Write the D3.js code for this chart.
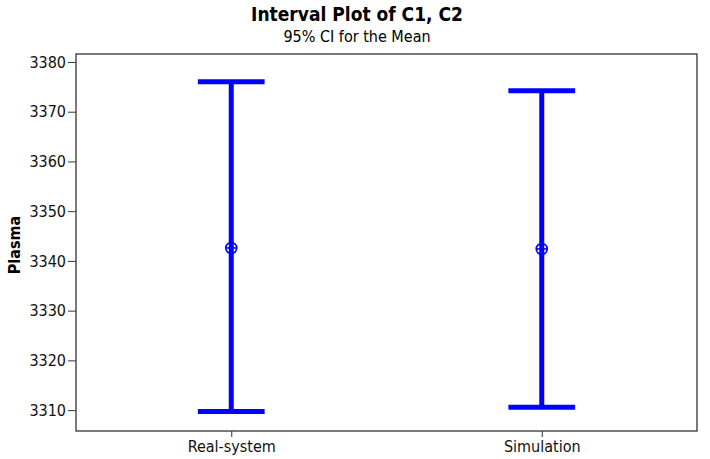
<!DOCTYPE html>
<html>
<head>
<meta charset="utf-8">
<script src="https://cdn.jsdelivr.net/npm/d3@7"></script>
<style>
  body { margin: 0; background: #fff; }
  text { font-family: "DejaVu Sans Condensed", "DejaVu Sans", Verdana, sans-serif; }
</style>
</head>
<body>
<div id="chart"></div>
<script>
// interval plot values
const categories = ["Real-system", "Simulation"];
const means = [3342.6, 3342.4];
const lowers = [3309.7, 3310.6];
const uppers = [3376.0, 3374.2];
const yTicks = [3310, 3320, 3330, 3340, 3350, 3360, 3370, 3380];

const width = 710, height = 459;
const margin = {top: 54, right: 13, bottom: 28, left: 76};

const svg = d3.select("#chart").append("svg")
    .attr("width", width)
    .attr("height", height);

const data = categories.map((c, i) => ({name: c, mean: means[i], lo: lowers[i], hi: uppers[i]}));

let x = d3.scalePoint()
    .domain(categories)
    .range([margin.left, width - margin.right])
    .padding(0.5);
let y = d3.scaleLinear()
    .domain([3305.8, 3381.6])
    .range([height - margin.bottom, margin.top]);

const capW = x.step() * 0.215;
const blue = "#0000ff";

// frame
svg.append("rect")
    .attr("x", margin.left)
    .attr("y", margin.top)
    .attr("width", width - margin.left - margin.right)
    .attr("height", height - margin.top - margin.bottom)
    .attr("fill", "none")
    .attr("stroke", "#222")
    .attr("stroke-width", 1.2);

let yAxis = g => g
    .attr("transform", `translate(${margin.left},0)`)
    .call(d3.axisLeft(y).tickValues(yTicks).tickFormat(d3.format("d")).tickSize(8).tickPadding(2))
    .call(g => g.selectAll(".domain").remove())
    .call(g => g.selectAll("line").attr("stroke", "#333"))
    .call(g => g.selectAll("text").style("font-size", "16px").attr("fill", "#111"));

let xAxis = g => g
    .attr("transform", `translate(0,${height - margin.bottom})`)
    .call(d3.axisBottom(x).tickSize(6).tickPadding(4))
    .call(g => g.selectAll(".domain").remove())
    .call(g => g.selectAll("line").attr("stroke", "#333"))
    .call(g => g.selectAll("text").style("font-size", "16px").attr("fill", "#111"));

svg.append("g").call(yAxis);
svg.append("g").call(xAxis);

// intervals
const bars = svg.append("g")
    .selectAll("g")
    .data(data)
    .join("g")
    .attr("stroke", blue)
    .attr("stroke-width", 5)
    .attr("fill", "none");

bars.append("line")
    .attr("x1", d => x(d.name)).attr("x2", d => x(d.name))
    .attr("y1", d => y(d.lo)).attr("y2", d => y(d.hi));
bars.append("line")
    .attr("x1", d => x(d.name) - capW / 2).attr("x2", d => x(d.name) + capW / 2)
    .attr("y1", d => y(d.hi)).attr("y2", d => y(d.hi));
bars.append("line")
    .attr("x1", d => x(d.name) - capW / 2).attr("x2", d => x(d.name) + capW / 2)
    .attr("y1", d => y(d.lo)).attr("y2", d => y(d.lo));

// mean symbol: circle with cross
const sym = svg.append("g")
    .selectAll("g")
    .data(data)
    .join("g")
    .attr("transform", d => `translate(${x(d.name)},${y(d.mean)})`)
    .attr("stroke", blue)
    .attr("stroke-width", 1.6)
    .attr("fill", "none");
sym.append("circle").attr("r", 5.5);
sym.append("line").attr("x1", -5.5).attr("x2", 5.5);
sym.append("line").attr("y1", -5.5).attr("y2", 5.5);

// titles
svg.append("text")
    .attr("x", width / 2 + 2).attr("y", 21)
    .attr("text-anchor", "middle")
    .style("font-size", "19px").style("font-weight", "bold")
    .text("Interval Plot of C1, C2");
svg.append("text")
    .attr("x", width / 2 + 2).attr("y", 42)
    .attr("text-anchor", "middle")
    .style("font-size", "16px")
    .text("95% CI for the Mean");
svg.append("text")
    .attr("transform", `translate(14,245) rotate(-90)`)
    .attr("text-anchor", "middle")
    .attr("dy", "0.35em")
    .style("font-size", "16px").style("font-weight", "bold")
    .text("Plasma");
</script>
</body>
</html>
